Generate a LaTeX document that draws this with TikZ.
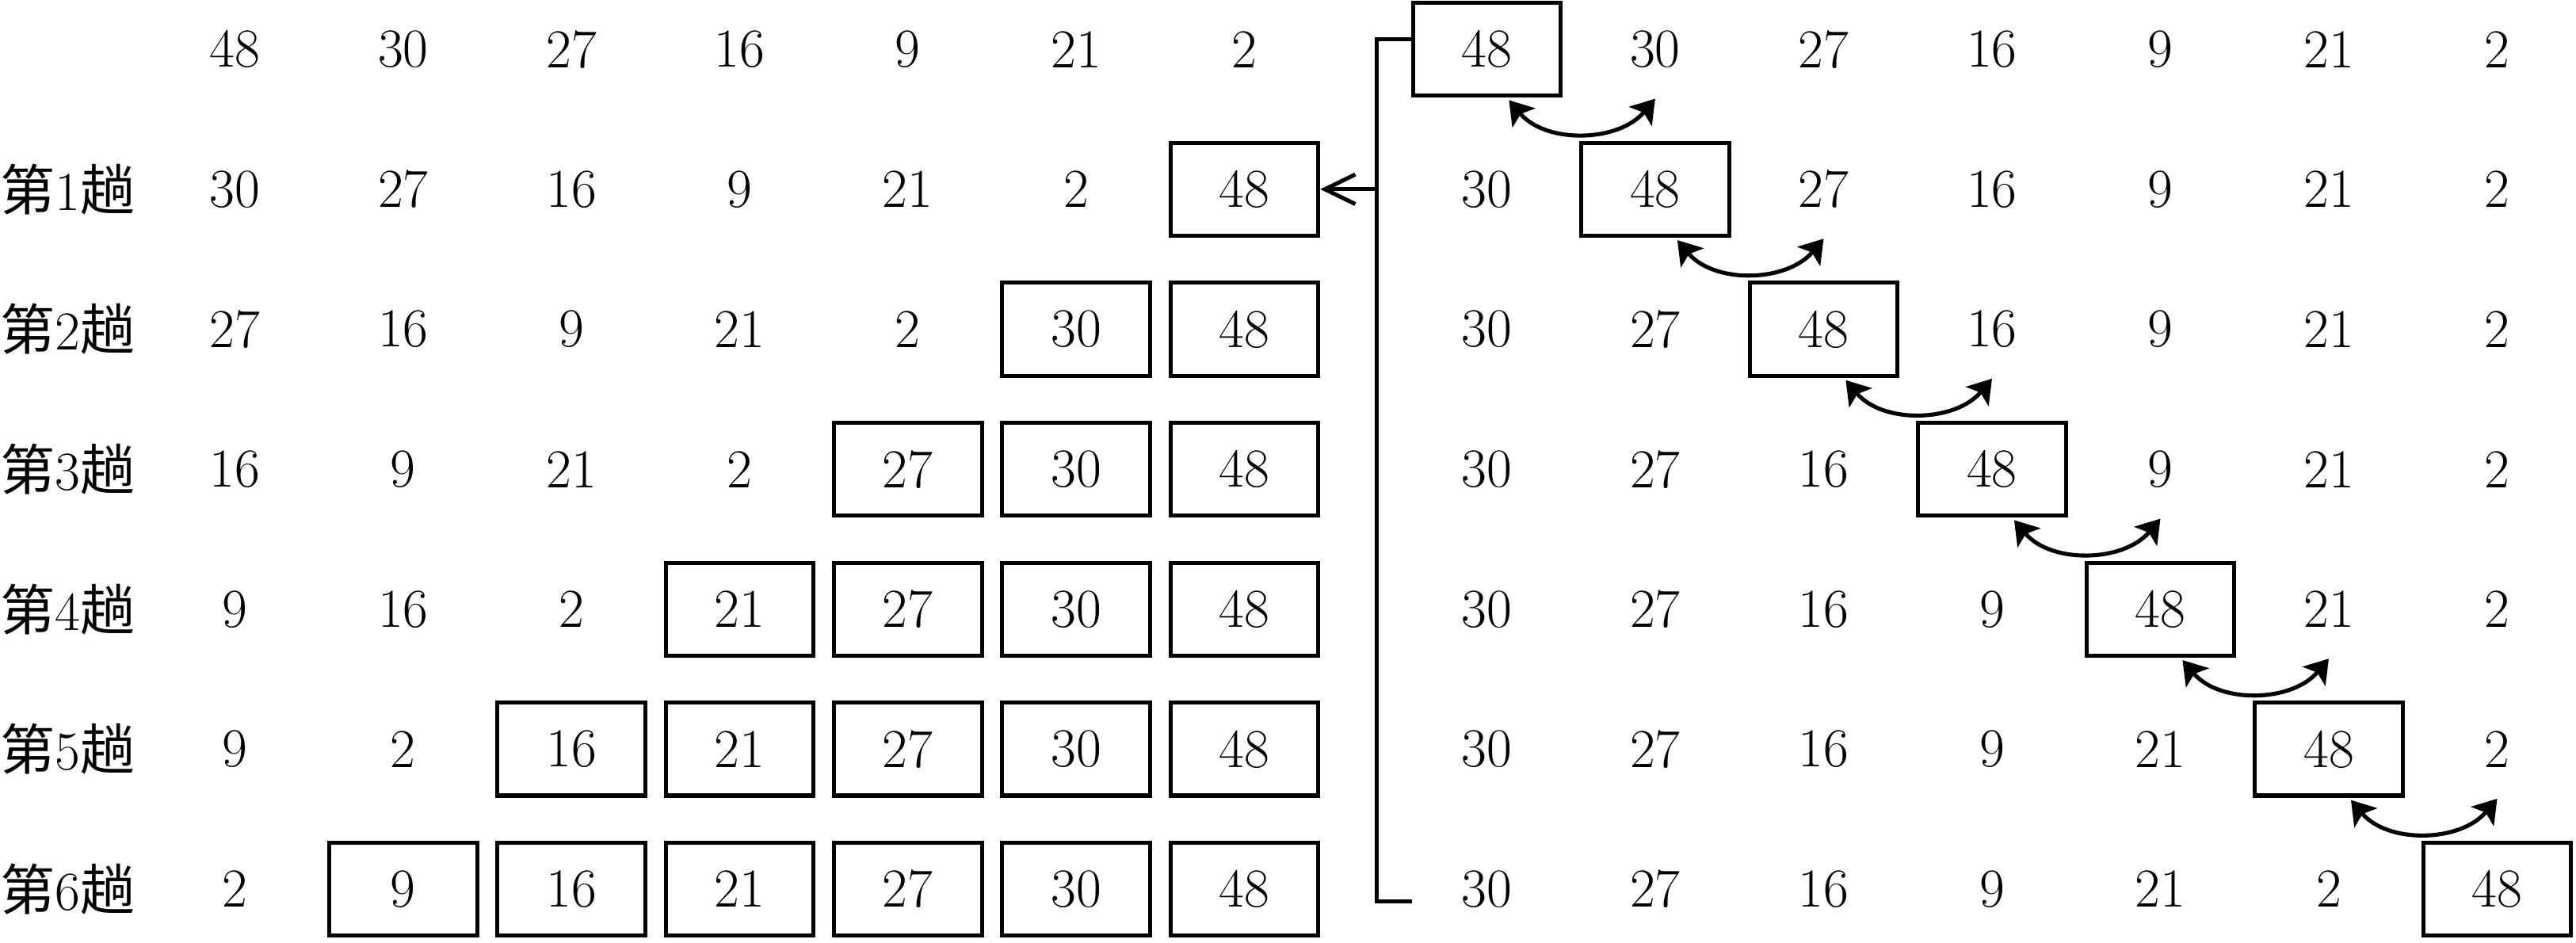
\documentclass[tikz,border=0pt]{standalone}
\usepackage{fontspec}
\newfontfamily\cjk{Noto Sans CJK SC}
\usetikzlibrary{arrows.meta}

\tikzset{
	num/.style = {minimum width = 1.8 cm, minimum height = 1.13 cm, inner sep = 0 pt, font = \fontsize{19}{21}\selectfont},
	sorted/.style = {num, draw, line width = 1.4 pt},
	pass/.style = {anchor = west, inner sep = 0 pt, font = \fontsize{19}{21}\selectfont},
	link/.style = {line width = 1.4 pt},
	swap/.style = {line width = 1.4 pt, {Stealth[length=2.8mm, width=3.6mm, inset=0.6mm]}-{Stealth[length=2.8mm, width=3.6mm, inset=0.6mm]}}
}

\begin{document}
\begin{tikzpicture}
	\useasboundingbox (0, 0) rectangle (31.36, -11.47);

	% pass labels
	\foreach \r in {1, ..., 6}
	\node[pass] (t\r) at (0, {-0.6 - 1.704*\r}) {{\cjk 第}\r{\cjk 趟}};

	% left table: whole passes
	\foreach \vals [count = \r from 0] in {{48,30,27,16,9,21,2}, {30,27,16,9,21,2,48}, {27,16,9,21,2,30,48}, {16,9,21,2,27,30,48}, {9,16,2,21,27,30,48}, {9,2,16,21,27,30,48}, {2,9,16,21,27,30,48}} {
		\foreach \v [count = \c from 0] in \vals {
			\ifnum \numexpr \c + \r \relax > 6
				\node[sorted] (L\r-\c) at ({2.86 + 2.048*\c}, {-0.6 - 1.704*\r}) {\v};
			\else
				\node[num] (L\r-\c) at ({2.86 + 2.048*\c}, {-0.6 - 1.704*\r}) {\v};
			\fi
		}
	}

	% right table: first pass step by step
	\foreach \vals [count = \r from 0] in {{48,30,27,16,9,21,2}, {30,48,27,16,9,21,2}, {30,27,48,16,9,21,2}, {30,27,16,48,9,21,2}, {30,27,16,9,48,21,2}, {30,27,16,9,21,48,2}, {30,27,16,9,21,2,48}} {
		\foreach \v [count = \c from 0] in \vals {
			\ifnum \c = \r
				\node[sorted] (R\r-\c) at ({18.1 + 2.05*\c}, {-0.6 - 1.704*\r}) {\v};
			\else
				\node[num] (R\r-\c) at ({18.1 + 2.05*\c}, {-0.6 - 1.704*\r}) {\v};
			\fi
		}
	}

	\foreach \r in {0, ..., 5} {
		\pgfmathtruncatemacro{\n}{\r + 1}
		\draw[swap] ([xshift = 0.27 cm, yshift = -0.03 cm]R\r-\r.south) to[out = -50, in = -130] ([yshift = -0.03 cm]R\r-\n.south);
	}

	\coordinate (split) at (16.76, -2.304);
	\draw[link] ([yshift = 0.12 cm]R0-0.west) -| (split) |- ([yshift = -0.15 cm]R6-0.west);
	\draw[link, -{Straight Barb[length=3.7mm, width=3.6mm]}] (split) -- (L1-6.east);
\end{tikzpicture}
\end{document}
